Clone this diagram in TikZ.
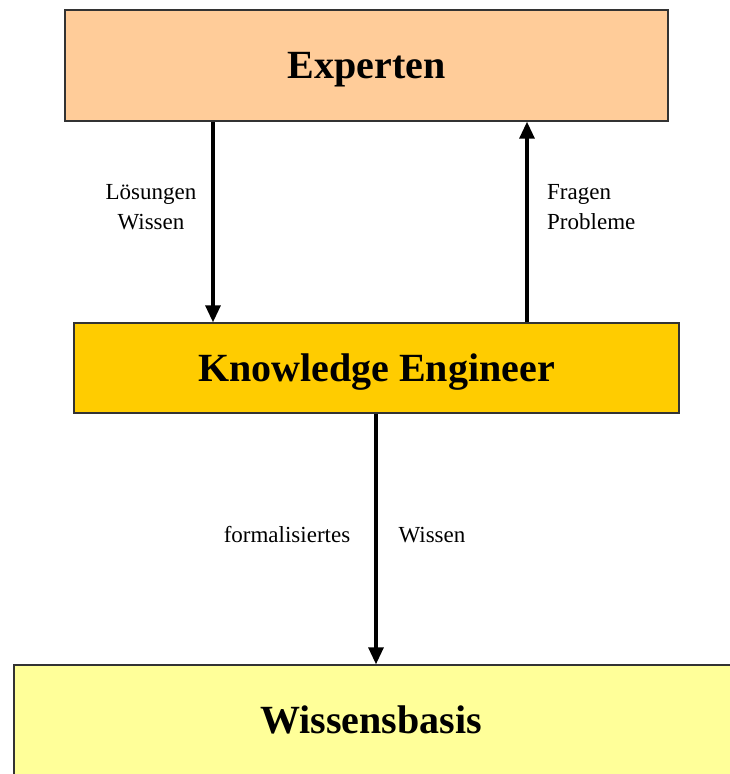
\documentclass[tikz,border=0pt]{standalone}
\usepackage{fontspec}
\setmainfont{Liberation Serif}
\usetikzlibrary{arrows.meta}
\definecolor{peach}{RGB}{255,204,153}
\definecolor{gold}{RGB}{255,204,0}
\definecolor{paleyellow}{RGB}{255,255,153}
\begin{document}
\begin{tikzpicture}[x=1pt,y=-1pt,
  block/.style={draw=black!80,line width=1.4pt,rectangle,inner sep=0pt,
    text depth=0pt,font=\fontsize{40}{48}\selectfont\bfseries},
  flow/.style={line width=3.2pt,-{Triangle[length=17pt,width=15pt]}},
  lbl/.style={inner sep=0pt,font=\fontsize{23}{30}\selectfont}]
\useasboundingbox (0,0) rectangle (730,774);
\clip (0,0) rectangle (730,774);
\fill[white] (0,0) rectangle (730,774);

% boxes
\node[block,fill=peach,minimum width=603pt,minimum height=111pt] (ex) at (366.5,65.5) {Experten};
\node[block,fill=gold,minimum width=605pt,minimum height=90pt] (ke) at (376.5,368) {Knowledge Engineer};
\node[block,fill=paleyellow,minimum width=740pt,minimum height=130pt] (wb) at (384,730) {};
\node[inner sep=0pt,font=\fontsize{40}{48}\selectfont\bfseries] (wbtext) at (371,720) {Wissensbasis};

% connectors
\draw[flow] (213,0 |- ex.south) -- (213,0 |- ke.north);
\draw[flow] (527,0 |- ke.north) -- (527,0 |- ex.south);
\draw[flow] (376,0 |- ke.south) -- (376,0 |- wb.north);

% connector labels
\node[lbl,align=center] (l1) at (151,207) {Lösungen\\Wissen};
\node[lbl,align=left,anchor=west] (l2) at (547,207) {Fragen\\Probleme};
\node[lbl] (l3) at (287,535) {formalisiertes};
\node[lbl] (l4) at (432,535) {Wissen};
\end{tikzpicture}
\end{document}
